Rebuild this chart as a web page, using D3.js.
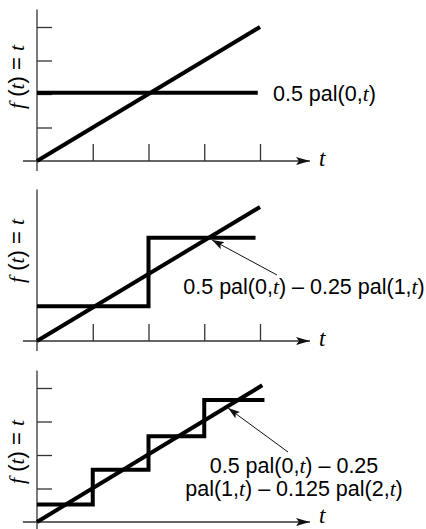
<!DOCTYPE html>
<html>
<head>
<meta charset="utf-8">
<script src="https://cdn.jsdelivr.net/npm/d3@7"></script>
<style>
  body { margin: 0; background: #fff; }
  svg { display: block; }
</style>
</head>
<body>
<div id="chart"></div>
<script>
// Data (t in [0,1])
const rampPoints = [[0, 0], [1, 1]];
const rampPoints3 = [[0, 0], [1.01, 1.02]];
const approx0 = [[0, 0.51], [0.99, 0.51]];
const approx1 = [[0, 0.26], [0.5, 0.26], [0.5, 0.77], [0.98, 0.77]];
const approx2 = [[0, 0.13], [0.25, 0.13], [0.25, 0.39], [0.5, 0.39], [0.5, 0.64], [0.75, 0.64], [0.75, 0.91], [1.02, 0.91]];
const xTicks = [0.25, 0.5, 0.75, 1];
const yTicks = [0.25, 0.5, 0.75, 1];

// Set up the dimensions
const W = 426, H = 529;
const unitY = 134;

const svg = d3.select("#chart")
    .append("svg")
    .attr("width", W)
    .attr("height", H);

const defs = svg.append("defs");
defs.append("marker")
    .attr("id", "axisHead")
    .attr("viewBox", "0 0 14 8")
    .attr("refX", 14).attr("refY", 4)
    .attr("markerWidth", 14).attr("markerHeight", 8)
    .attr("markerUnits", "userSpaceOnUse")
    .attr("orient", "auto")
    .append("path")
    .attr("d", "M0,0 L14,4 L0,8 L3,4 Z")
    .attr("fill", "#111");
defs.append("marker")
    .attr("id", "noteHead")
    .attr("viewBox", "0 0 12 8")
    .attr("refX", 12).attr("refY", 4)
    .attr("markerWidth", 12).attr("markerHeight", 8)
    .attr("markerUnits", "userSpaceOnUse")
    .attr("orient", "auto")
    .append("path")
    .attr("d", "M0,0 L12,4 L0,8 L2.5,4 Z")
    .attr("fill", "#111");

const x = d3.scaleLinear().domain([0, 1]).range([37, 260]);
const line = (ys) => d3.line().x(d => x(d[0])).y(d => ys(d[1]));

const panels = [
    { y0: 161, steps: approx0, ramp: rampPoints, xt: true, yt: true, labelDy: -84, tDy: 5,
      note: { lines: ["0.5 pal(0,<i>t</i>)"], x: 273, y: 101, anchor: "start" } },
    { y0: 341, steps: approx1, ramp: rampPoints, xt: true, yt: false, labelDy: -90, tDy: 5,
      note: { lines: ["0.5 pal(0,<i>t</i>) – 0.25 pal(1,<i>t</i>)"], x: 304, y: 294, anchor: "middle" },
      arrow: { from: [277, 275], to: [0.785, 0.754] } },
    { y0: 522, steps: approx2, ramp: rampPoints3, xt: false, yt: true, labelDy: -70, tDy: 1,
      note: { lines: ["0.5 pal(0,<i>t</i>) – 0.25", "pal(1,<i>t</i>) – 0.125 pal(2,<i>t</i>)"], x: 294, y: 473, anchor: "middle" },
      arrow: { from: [288, 452], to: [0.857, 0.85] } }
];

const sans = "'Liberation Sans', Arial, sans-serif";
const serif = "'Liberation Serif', 'Times New Roman', serif";

// builds a text with italic serif segments marked by <i>
function richText(sel, str) {
    str.split(/(<i>.*?<\/i>)/).filter(s => s.length).forEach(part => {
        const it = part.startsWith("<i>");
        sel.append("tspan")
            .style("font-family", it ? serif : sans)
            .style("font-style", it ? "italic" : "normal")
            .text(it ? part.slice(3, -4) : part);
    });
}

panels.forEach(p => {
    const y = d3.scaleLinear().domain([0, 1]).range([p.y0, p.y0 - unitY]);
    const g = svg.append("g");

    // axes
    g.append("line")
        .attr("x1", x(-0.063)).attr("x2", x(1.224))
        .attr("y1", y(0)).attr("y2", y(0))
        .attr("stroke", "#333").attr("stroke-width", 1.3)
        .attr("marker-end", "url(#axisHead)");
    g.append("line")
        .attr("x1", x(0)).attr("x2", x(0))
        .attr("y1", y(-0.075)).attr("y2", y(1.13))
        .attr("stroke", "#333").attr("stroke-width", 1.3);

    if (p.xt) {
        g.append("g")
            .attr("transform", `translate(0,${y(0)})`)
            .call(d3.axisTop(x).tickValues(xTicks).tickSize(17).tickFormat(""))
            .call(s => s.select(".domain").remove())
            .selectAll("line").attr("stroke", "#333").attr("stroke-width", 1.3);
    }
    if (p.yt) {
        g.append("g")
            .attr("transform", `translate(${x(0)},0)`)
            .call(d3.axisRight(y).tickValues(yTicks).tickSize(15).tickFormat(""))
            .call(s => s.select(".domain").remove())
            .selectAll("line").attr("stroke", "#333").attr("stroke-width", 1.3);
    }

    // axis labels
    g.append("text")
        .attr("x", x(1.224) + 9).attr("y", y(0) + p.tDy)
        .style("font-family", serif).style("font-style", "italic")
        .style("font-size", "23px")
        .text("t");

    const yl = g.append("text")
        .attr("transform", `translate(24,${p.y0 + p.labelDy}) rotate(-90)`)
        .attr("text-anchor", "middle")
        .style("font-size", "22px");
    richText(yl, "<i>f</i> (<i>t</i>) = <i>t</i>");

    // curves
    g.append("path").datum(p.steps)
        .attr("d", line(y))
        .attr("fill", "none").attr("stroke", "#000")
        .attr("stroke-width", 4).attr("stroke-linejoin", "miter").attr("stroke-linecap", "butt");
    g.append("path").datum(p.ramp)
        .attr("d", line(y))
        .attr("fill", "none").attr("stroke", "#000")
        .attr("stroke-width", 4).attr("stroke-linecap", "butt");

    // annotation
    p.note.lines.forEach((ln, i) => {
        const t = g.append("text")
            .attr("x", p.note.x).attr("y", p.note.y + i * 23)
            .attr("text-anchor", p.note.anchor)
            .style("font-size", "21.5px");
        richText(t, ln);
    });
    if (p.arrow) {
        g.append("line")
            .attr("x1", p.arrow.from[0]).attr("y1", p.arrow.from[1])
            .attr("x2", x(p.arrow.to[0])).attr("y2", y(p.arrow.to[1]))
            .attr("stroke", "#111").attr("stroke-width", 1)
            .attr("marker-end", "url(#noteHead)");
    }
});
</script>
</body>
</html>
